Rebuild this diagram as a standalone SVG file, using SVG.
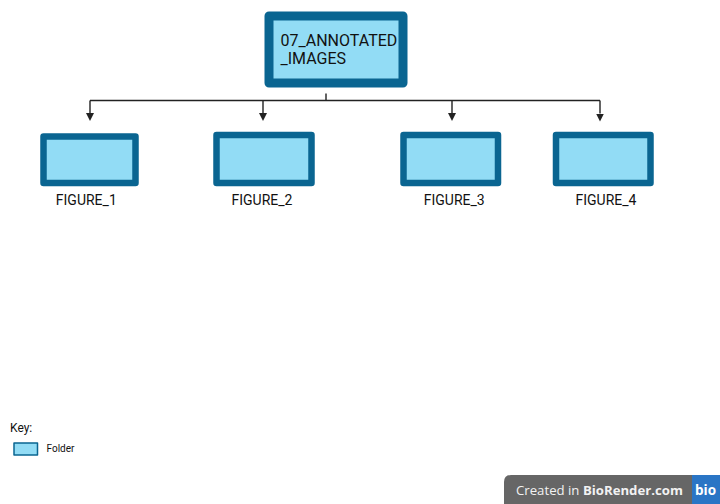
<svg xmlns="http://www.w3.org/2000/svg" width="720" height="504" viewBox="0 0 720 504">
<style>
.t{font-family:Roboto,"Liberation Sans",sans-serif;fill:#111}
.lab{font-size:14px;text-anchor:middle}
.box{fill:#92dcf5;stroke:#0a6591;stroke-linejoin:round}
.line{fill:none;stroke:#222;stroke-width:1.4}
.arr{marker-end:url(#a)}
</style>
<defs><marker id="a" markerUnits="userSpaceOnUse" markerWidth="8" markerHeight="8" refX="0" refY="4" orient="auto" viewBox="0 0 8 8"><path d="M0 0L8 4L0 8Z" fill="#222"/></marker></defs>
<rect width="720" height="504" fill="#fff"/>
<g id="connectors">
<path class="line" d="M326 93.500V100.500M90 100.500H600"/>
<path class="line arr" d="M90 100.500V113"/>
<path class="line arr" d="M263 100.500V113"/>
<path class="line arr" d="M452 100.500V113"/>
<path class="line arr" d="M600 100.500V113.500"/>
</g>
<g id="node-root"><rect class="box" x="269" y="16" width="134" height="67" stroke-width="9"/>
<text class="t" font-size="16" x="280.500" y="46">07_ANNOTATED</text><text class="t" font-size="16" x="280.500" y="64">_IMAGES</text></g>
<g id="node-figure1"><rect class="box" x="43.500" y="136.500" width="92" height="46.500" stroke-width="6.500"/><text class="t lab" x="86.300" y="205">FIGURE_1</text></g>
<g id="node-figure2"><rect class="box" x="216.500" y="135" width="95" height="48" stroke-width="6.500"/><text class="t lab" x="262" y="205">FIGURE_2</text></g>
<g id="node-figure3"><rect class="box" x="403.500" y="135" width="94.500" height="48" stroke-width="6.500"/><text class="t lab" x="454.200" y="205">FIGURE_3</text></g>
<g id="node-figure4"><rect class="box" x="556" y="135" width="94.500" height="48" stroke-width="6.500"/><text class="t lab" x="606" y="205">FIGURE_4</text></g>
<g id="key"><text class="t" font-size="12" x="10" y="432">Key:</text>
<rect class="box" x="14" y="443" width="23.500" height="12" stroke-width="1.500"/>
<text class="t" font-size="10" x="46.500" y="452">Folder</text></g>
<g id="badge">
<path d="M504 504V482Q504 475 511 475H692V504Z" fill="#666"/>
<rect x="692" y="475" width="28" height="29" fill="#2a75c5"/>
<text x="516" y="495" font-family="'Open Sans','Noto Sans',sans-serif" font-size="13.200" fill="#f2f2f2">Created in <tspan font-weight="700">BioRender.com</tspan></text>
<text x="705.500" y="495" font-family="'Open Sans','Noto Sans',sans-serif" font-size="13.500" font-weight="700" fill="#fff" text-anchor="middle">bio</text>
</g>
</svg>
